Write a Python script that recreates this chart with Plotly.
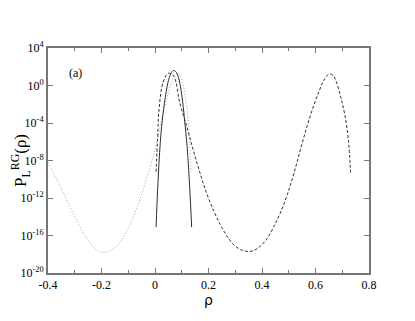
import numpy as np
import plotly.graph_objects as go

# rho values and log10 of P for each curve
rho_dot = [-0.40, -0.35, -0.30, -0.25, -0.20, -0.15, -0.10, -0.05, 0.00, 0.03,
           0.05, 0.07, 0.085, 0.10, 0.115, 0.125, 0.135]
logp_dot = [-8.2, -11.0, -14.0, -16.5, -17.8, -17.3, -15.2, -11.6, -6.8, -3.0,
            -0.8, 0.9, 1.3, 0.6, -1.6, -4.2, -9.2]

rho_solid = [0.004, 0.01, 0.02, 0.03, 0.04, 0.05, 0.06, 0.07, 0.08, 0.09,
             0.10, 0.11, 0.12, 0.13, 0.137]
logp_solid = [-15.1, -11.0, -6.0, -3.0, -1.0, 0.5, 1.3, 1.6, 1.4, 0.6,
              -1.0, -3.5, -6.5, -11.0, -15.1]

rho_dash = [0.004, 0.01, 0.015, 0.03, 0.05, 0.07, 0.093, 0.12, 0.143, 0.168,
            0.193, 0.22, 0.245, 0.27, 0.295, 0.32, 0.345, 0.37, 0.395, 0.42,
            0.445, 0.47, 0.495, 0.52, 0.545, 0.57, 0.595, 0.615, 0.630, 0.650,
            0.665, 0.680, 0.695, 0.710, 0.723, 0.731]
logp_dash = [-9.2, -5.5, -2.6, 0.3, 1.3, 1.0, -1.9, -4.5, -6.9, -9.3,
             -11.5, -13.4, -14.9, -16.1, -17.0, -17.5, -17.7, -17.6, -17.1, -16.3,
             -15.0, -13.5, -11.6, -9.3, -6.7, -4.2, -2.0, -0.5, 0.5, 1.2,
             1.1, 0.2, -1.3, -3.2, -5.8, -9.3]

y_ticks = [4, 0, -4, -8, -12, -16, -20]
x_ticks = [-0.4, -0.2, 0, 0.2, 0.4, 0.6, 0.8]

fig = go.Figure()
fig.add_trace(go.Scatter(x=rho_dot, y=10.0 ** np.array(logp_dot), mode="lines",
                         line=dict(color="#a0a0a0", width=1, dash="1px,2px", shape="spline")))
fig.add_trace(go.Scatter(x=rho_solid, y=10.0 ** np.array(logp_solid), mode="lines",
                         line=dict(color="#303030", width=1, shape="spline")))
fig.add_trace(go.Scatter(x=rho_dash, y=10.0 ** np.array(logp_dash), mode="lines",
                         line=dict(color="#303030", width=1, dash="3px,2px", shape="spline")))

serif = "Liberation Serif, Times New Roman, serif"
axis_font = dict(family=serif, size=12, color="black")
# page has an 8px body margin, so the figure is made 8px smaller
fig.update_layout(
    width=407, height=313,
    margin=dict(l=40, r=46, t=40, b=48),
    plot_bgcolor="white", paper_bgcolor="white",
    showlegend=False,
    font=dict(family=serif),
    xaxis=dict(range=[-0.4, 0.8], tickvals=x_ticks, ticktext=[f"{v:g}" for v in x_ticks],
               ticks="inside", ticklen=5, tickcolor="#777", showline=True, linecolor="#777",
               linewidth=2, mirror="ticks", showgrid=False, zeroline=False, tickfont=axis_font,
               automargin=False,
               minor=dict(ticks="inside", ticklen=3, dtick=0.1, tick0=-0.4, tickcolor="#777", showgrid=False),
               title=dict(text="ρ", font=dict(family="DejaVu Sans", size=14, color="black"), standoff=0)),
    yaxis=dict(type="log", range=[-20, 4], tickvals=[10.0 ** v for v in y_ticks],
               ticktext=[f"10<sup>{v}</sup>" for v in y_ticks],
               ticks="inside", ticklen=5, tickcolor="#777", showline=True, linecolor="#777",
               linewidth=2, mirror="ticks", showgrid=False, zeroline=False, tickfont=axis_font,
               automargin=False,
               title=dict(text="P<sub>L</sub><sup>RG</sup>(ρ)",
                          font=dict(family=serif, size=17, color="black"), standoff=2)),
    annotations=[dict(text="(a)", x=0.06, y=0.93, xref="paper", yref="paper", showarrow=False,
                      font=dict(family=serif, size=12, color="black"))],
)

fig.write_html("out.html")
